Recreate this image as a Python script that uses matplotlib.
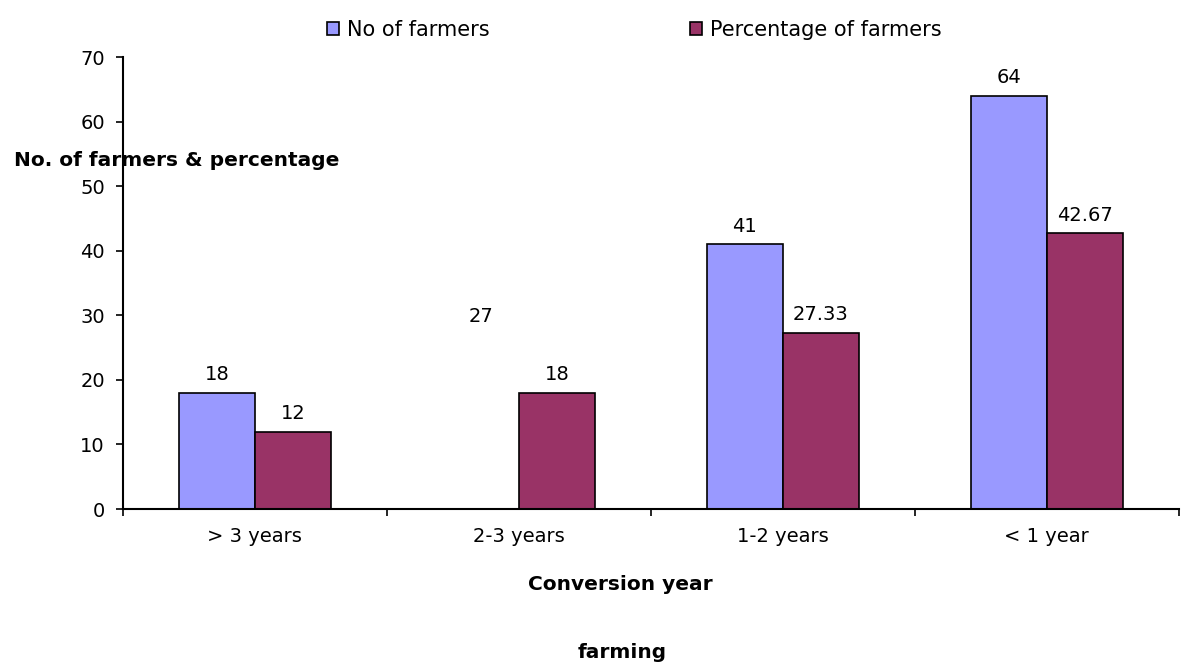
import numpy as np
import matplotlib
matplotlib.use('Agg')
import matplotlib.pyplot as plt

plt.rcParams['font.family'] = ['DejaVu Sans']

categories = ['> 3 years', '2-3 years', '1-2 years', '< 1 year']
no_farmers = [18, 27, 41, 64]
pct_farmers = [12, 18, 27.33, 42.67]
no_labels = ['18', '27', '41', '64']
pct_labels = ['12', '18', '27.33', '42.67']
# the 2-3 years "No of farmers" bar is not drawn in the original, only its label
no_visible = [True, False, True, True]

fig = plt.figure(figsize=(11.81, 6.66), dpi=100)
ax = fig.add_axes([0.104, 0.2357, 0.894, 0.6787])

x = np.arange(len(categories))
w = 0.288
blue = '#9999FF'
red = '#993366'
fs = 14

bars1 = ax.bar(x - w / 2, no_farmers, w, color=blue, edgecolor='black', linewidth=1.2,
               label='No of farmers')
for b, vis in zip(bars1, no_visible):
    if not vis:
        b.set_facecolor('none')
        b.set_edgecolor('none')
bars2 = ax.bar(x + w / 2, pct_farmers, w, color=red, edgecolor='black', linewidth=1.2,
               label='Percentage of farmers')

for b, lab in zip(bars1, no_labels):
    ax.annotate(lab, (b.get_x() + b.get_width() / 2, b.get_height()),
                xytext=(0, 6), textcoords='offset points', ha='center', va='bottom', fontsize=fs)
for b, lab in zip(bars2, pct_labels):
    ax.annotate(lab, (b.get_x() + b.get_width() / 2, b.get_height()),
                xytext=(0, 6), textcoords='offset points', ha='center', va='bottom', fontsize=fs)

ax.set_xlim(-0.5, len(categories) - 0.5)
ax.set_ylim(0, 70)
ax.set_yticks(np.arange(0, 71, 10))
ax.set_xticks(x)
ax.set_xticklabels(categories, fontsize=fs)
ax.set_xticks(np.arange(-0.5, len(categories) + 0.5, 1), minor=True)
ax.tick_params(axis='x', which='major', length=0, pad=13)
ax.tick_params(axis='x', which='minor', length=5, width=1.2, direction='out')
ax.tick_params(axis='y', length=5, width=1.2, labelsize=fs, pad=8)
ax.spines['top'].set_visible(False)
ax.spines['right'].set_visible(False)
ax.spines['left'].set_linewidth(1.5)
ax.spines['bottom'].set_linewidth(1.5)

fig.text(14 / 1181, 1 - 160 / 666, 'No. of farmers & percentage', ha='left', va='center',
         fontsize=14.5, fontweight='bold')
fig.text(620 / 1181, 1 - 585 / 666, 'Conversion year', ha='center', va='center',
         fontsize=14.5, fontweight='bold')
fig.text(622 / 1181, 1 - 652 / 666, 'farming', ha='center', va='center',
         fontsize=14.5, fontweight='bold')

leg_kw = dict(loc='center left', frameon=False, fontsize=15, handlelength=0.58,
              handleheight=0.58, handletextpad=0.4, borderpad=0, borderaxespad=0)
fig.legend(handles=[bars1[0]], labels=['No of farmers'],
           bbox_to_anchor=(327 / 1181, 1 - 30 / 666), **leg_kw)
fig.legend(handles=[bars2[0]], labels=['Percentage of farmers'],
           bbox_to_anchor=(690 / 1181, 1 - 30 / 666), **leg_kw)

fig.savefig('out.png', dpi=100)
